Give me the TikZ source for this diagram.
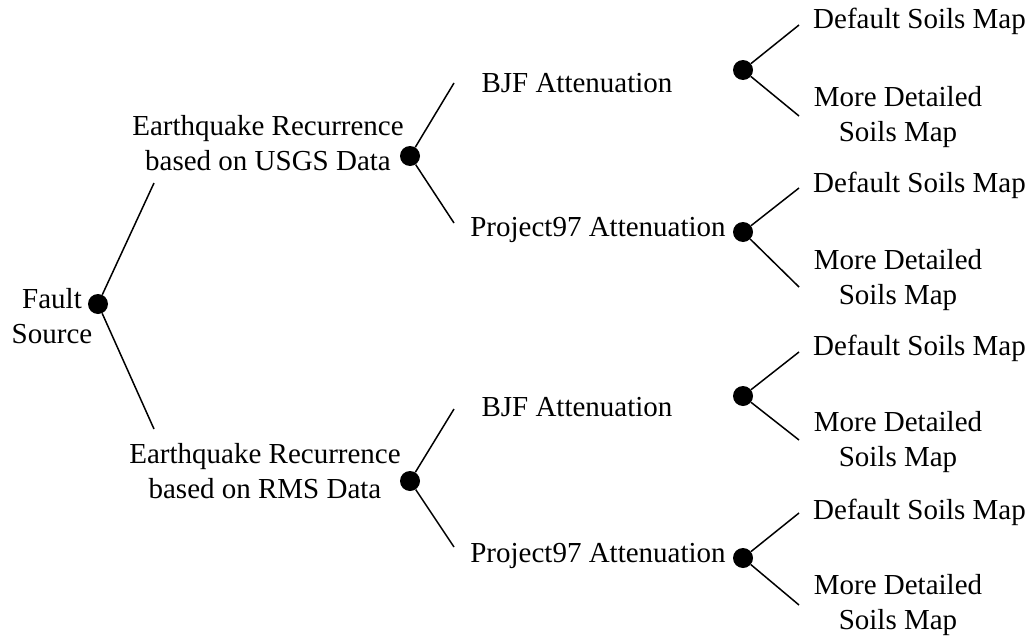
\documentclass[tikz,border=0pt]{standalone}
\usepackage{fontspec}
\setmainfont{Liberation Serif}
\usetikzlibrary{positioning}
\tikzset{DotStyle/.style={circle,fill=black,inner sep=0pt,minimum size=20pt}}
\tikzset{TextStyle/.style={font=\fontsize{29}{35}\selectfont,inner sep=0pt,align=center}}
\tikzset{EdgeStyle/.style={line width=1.5pt}}

\begin{document}
\begin{tikzpicture}[x=1pt,y=-1pt]
        \useasboundingbox (0,0) rectangle (1034,637);
        \node[DotStyle] (F) at (98,304) {};
        \node[DotStyle] (U) at (410,156) {};
        \node[DotStyle] (R) at (410,481) {};
        \node[DotStyle] (UB) at (743,70) {};
        \node[DotStyle] (UP) at (743,232) {};
        \node[DotStyle] (RB) at (743,396) {};
        \node[DotStyle] (RP) at (743,558) {};
        \coordinate (Fu) at (154,183);
        \coordinate (Fd) at (154,429);
        \coordinate (Uu) at (454,83);
        \coordinate (Ud) at (454,223);
        \coordinate (Ru) at (454,409);
        \coordinate (Rd) at (454,547);
        \coordinate (UBu) at (799,25);
        \coordinate (UBd) at (799,116);
        \coordinate (UPu) at (799,188);
        \coordinate (UPd) at (799,287);
        \coordinate (RBu) at (799,352);
        \coordinate (RBd) at (799,440);
        \coordinate (RPu) at (799,513);
        \coordinate (RPd) at (799,605);
        \node[TextStyle,anchor=base] (tF) at (52,343) {Fault\\Source};
        \node[TextStyle,anchor=base] (tU) at (268,170) {Earthquake Recurrence\\based on USGS Data};
        \node[TextStyle,anchor=base] (tR) at (265,498) {Earthquake Recurrence\\based on RMS Data};
        \node[TextStyle,anchor=base] (tUB) at (577,92) {BJF Attenuation};
        \node[TextStyle,anchor=base] (tUP) at (598,236) {Project97 Attenuation};
        \node[TextStyle,anchor=base] (tRB) at (577,416) {BJF Attenuation};
        \node[TextStyle,anchor=base] (tRP) at (598,562) {Project97 Attenuation};
        \node[TextStyle,anchor=base west] (tUBa) at (813,28) {Default Soils Map};
        \node[TextStyle,anchor=base] (tUBb) at (898,141) {More Detailed\\Soils Map};
        \node[TextStyle,anchor=base west] (tUPa) at (813,192) {Default Soils Map};
        \node[TextStyle,anchor=base] (tUPb) at (898,304) {More Detailed\\Soils Map};
        \node[TextStyle,anchor=base west] (tRBa) at (813,355) {Default Soils Map};
        \node[TextStyle,anchor=base] (tRBb) at (898,466) {More Detailed\\Soils Map};
        \node[TextStyle,anchor=base west] (tRPa) at (813,519) {Default Soils Map};
        \node[TextStyle,anchor=base] (tRPb) at (898,629) {More Detailed\\Soils Map};
        \draw[EdgeStyle] (F) -- (Fu);
        \draw[EdgeStyle] (F) -- (Fd);
        \draw[EdgeStyle] (U) -- (Uu);
        \draw[EdgeStyle] (U) -- (Ud);
        \draw[EdgeStyle] (R) -- (Ru);
        \draw[EdgeStyle] (R) -- (Rd);
        \draw[EdgeStyle] (UB) -- (UBu);
        \draw[EdgeStyle] (UB) -- (UBd);
        \draw[EdgeStyle] (UP) -- (UPu);
        \draw[EdgeStyle] (UP) -- (UPd);
        \draw[EdgeStyle] (RB) -- (RBu);
        \draw[EdgeStyle] (RB) -- (RBd);
        \draw[EdgeStyle] (RP) -- (RPu);
        \draw[EdgeStyle] (RP) -- (RPd);
\end{tikzpicture}
\end{document}
